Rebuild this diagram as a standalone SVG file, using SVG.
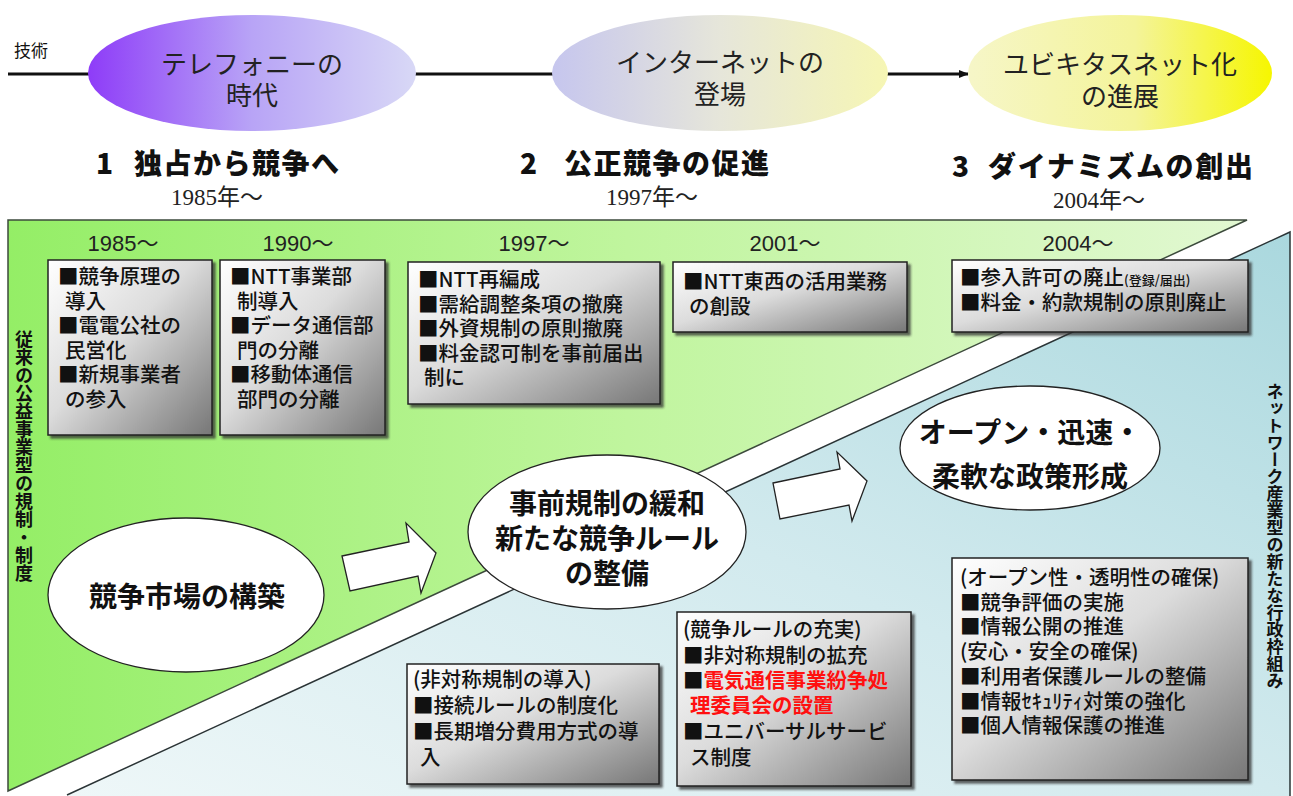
<svg xmlns="http://www.w3.org/2000/svg" width="1293" height="796" viewBox="0 0 1293 796">
<defs>
<style>
text{font-family:"Noto Sans CJK JP","Liberation Sans",sans-serif;fill:#111}
.bx{font-size:20.5px;font-weight:500}
.yr{font-family:"Liberation Sans","Noto Sans CJK JP",sans-serif;font-size:22px;fill:#222}
.hd{font-size:28px;font-weight:900}
.dt{font-family:"Liberation Serif","Noto Sans CJK JP",serif;font-size:23px;fill:#222}
.el{font-size:26px;text-anchor:middle;fill:#222}
.ct{font-size:28px;font-weight:700;text-anchor:middle}
.vt{writing-mode:vertical-rl;font-weight:700}
.red{fill:#ff1010;font-weight:700}
.box{fill:url(#gbox);stroke:#222;stroke-width:1.5;filter:url(#sh)}
.wel{fill:#fff;stroke:#222;stroke-width:1.3}
.barrow{fill:#fff;stroke:#222;stroke-width:1.3;stroke-linejoin:miter}
</style>
<linearGradient id="gbox" x1="0" y1="0" x2="1" y2="1">
<stop offset="0" stop-color="#ffffff"/>
<stop offset="0.45" stop-color="#dcdcdc"/>
<stop offset="1" stop-color="#777777"/>
</linearGradient>
<linearGradient id="ggreen" x1="0" y1="0" x2="1" y2="0">
<stop offset="0" stop-color="#94ee66"/>
<stop offset="0.5" stop-color="#c0f59e"/>
<stop offset="1" stop-color="#e2f8d2"/>
</linearGradient>
<linearGradient id="gblue" x1="0" y1="1" x2="1" y2="0">
<stop offset="0" stop-color="#eef7f8"/>
<stop offset="0.5" stop-color="#d2eaee"/>
<stop offset="1" stop-color="#aad8de"/>
</linearGradient>
<linearGradient id="ge1" x1="0" y1="0" x2="1" y2="0">
<stop offset="0" stop-color="#8e3cf8"/>
<stop offset="0.5" stop-color="#b8a4f6"/>
<stop offset="1" stop-color="#d8d8f6"/>
</linearGradient>
<linearGradient id="ge2" x1="0" y1="0" x2="1" y2="0">
<stop offset="0" stop-color="#c6c6ee"/>
<stop offset="0.5" stop-color="#e6e6da"/>
<stop offset="1" stop-color="#f6f6b4"/>
</linearGradient>
<linearGradient id="ge3" x1="0" y1="0" x2="1" y2="0">
<stop offset="0" stop-color="#f6f6c8"/>
<stop offset="0.55" stop-color="#f4f49a"/>
<stop offset="1" stop-color="#f6f600"/>
</linearGradient>
<filter id="sh" x="-10%" y="-10%" width="130%" height="130%">
<feDropShadow dx="3" dy="3" stdDeviation="1.2" flood-color="#333" flood-opacity="0.75"/>
</filter>
<marker id="ah" markerWidth="10" markerHeight="10" refX="9" refY="5" orient="auto" markerUnits="userSpaceOnUse">
<polygon points="0,1 10,5 0,9" fill="#111"/>
</marker>
</defs>

<rect width="1293" height="796" fill="#fff"/>

<g id="bands">
<polygon points="8,220 1247,220 8,791" fill="url(#ggreen)" stroke="#3c4a3c" stroke-width="1.5"/>
<polygon points="1290,232 1290,796 67,796" fill="url(#gblue)"/>
<polyline points="67,795 1290,232 1290,796" fill="none" stroke="#2a3436" stroke-width="1.5"/>
</g>

<g id="connectors">
<line x1="8" y1="74" x2="92" y2="74" stroke="#111" stroke-width="3"/>
<line x1="412" y1="74" x2="556" y2="74" stroke="#111" stroke-width="3"/>
<line x1="886" y1="74" x2="968" y2="74" stroke="#111" stroke-width="3" marker-end="url(#ah)"/>
<polygon class="barrow" points="342,556 409,542 406,523 436,553 421,593 418,576 350,591"/>
<polygon class="barrow" points="773,483 840,469 837,452 867,481 852,521 849,505 780,519"/>
</g>

<g id="label-tech"><text x="14" y="57" style="font-size:17px">技術</text></g>

<g id="era1">
<ellipse cx="252" cy="73" rx="164" ry="58" fill="url(#ge1)"/>
<text class="el" x="252" y="74">テレフォニーの<tspan x="252" dy="31">時代</tspan></text>
</g>
<g id="era2">
<ellipse cx="720" cy="73" rx="168" ry="58" fill="url(#ge2)"/>
<text class="el" x="720" y="72">インターネットの<tspan x="720" dy="32">登場</tspan></text>
</g>
<g id="era3">
<ellipse cx="1120" cy="73" rx="152" ry="58" fill="url(#ge3)"/>
<text class="el" x="1120" y="74">ユビキタスネット化<tspan x="1120" dy="32">の進展</tspan></text>
</g>

<g id="phase1">
<text class="hd" x="96" y="174">1</text>
<text class="hd" x="134" y="174" textLength="205" lengthAdjust="spacing">独占から競争へ</text>
<text class="dt" x="217" y="205" text-anchor="middle">1985年～</text>
</g>
<g id="phase2">
<text class="hd" x="520" y="174">2</text>
<text class="hd" x="564" y="174" textLength="205" lengthAdjust="spacing">公正競争の促進</text>
<text class="dt" x="652" y="205" text-anchor="middle">1997年～</text>
</g>
<g id="phase3">
<text class="hd" x="952" y="177">3</text>
<text class="hd" x="988" y="177" textLength="265" lengthAdjust="spacing">ダイナミズムの創出</text>
<text class="dt" x="1099" y="208" text-anchor="middle">2004年～</text>
</g>

<g id="years">
<text class="yr" x="123" y="251" text-anchor="middle">1985～</text>
<text class="yr" x="298" y="251" text-anchor="middle">1990～</text>
<text class="yr" x="534" y="251" text-anchor="middle">1997～</text>
<text class="yr" x="785" y="251" text-anchor="middle">2001～</text>
<text class="yr" x="1078" y="251" text-anchor="middle">2004～</text>
</g>

<g id="box1985">
<rect class="box" x="48" y="260" width="164" height="175"/>
<text class="bx" x="58" y="284">■競争原理の<tspan x="65" dy="24.6">導入</tspan><tspan x="58" dy="24.6">■電電公社の</tspan><tspan x="65" dy="24.6">民営化</tspan><tspan x="58" dy="24.6">■新規事業者</tspan><tspan x="65" dy="24.6">の参入</tspan></text>
</g>
<g id="box1990">
<rect class="box" x="220" y="260" width="165" height="175"/>
<text class="bx" x="230" y="284">■NTT事業部<tspan x="237" dy="24.6">制導入</tspan><tspan x="230" dy="24.6">■データ通信部</tspan><tspan x="237" dy="24.6">門の分離</tspan><tspan x="230" dy="24.6">■移動体通信</tspan><tspan x="237" dy="24.6">部門の分離</tspan></text>
</g>
<g id="box1997">
<rect class="box" x="408" y="262" width="252" height="142"/>
<text class="bx" x="418" y="287">■NTT再編成<tspan x="418" dy="24.5">■需給調整条項の撤廃</tspan><tspan x="418" dy="24.5">■外資規制の原則撤廃</tspan><tspan x="418" dy="24.5">■料金認可制を事前届出</tspan><tspan x="424" dy="24.5">制に</tspan></text>
</g>
<g id="box2001">
<rect class="box" x="673" y="262" width="234" height="70"/>
<text class="bx" x="683" y="289">■NTT東西の活用業務<tspan x="689" dy="24.5">の創設</tspan></text>
</g>
<g id="box2004">
<rect class="box" x="952" y="260" width="296" height="72"/>
<text class="bx" x="960" y="285">■参入許可の廃止<tspan style="font-size:13px">(登録/届出)</tspan><tspan x="960" dy="24.5">■料金・約款規制の原則廃止</tspan></text>
</g>

<g id="node-market">
<ellipse class="wel" cx="186" cy="595" rx="138" ry="77"/>
<text class="ct" x="187" y="607">競争市場の構築</text>
</g>
<g id="node-rules">
<ellipse class="wel" cx="607" cy="532" rx="139" ry="77"/>
<text class="ct" x="607" y="514">事前規制の緩和<tspan x="607" dy="35">新たな競争ルール</tspan><tspan x="607" dy="35">の整備</tspan></text>
</g>
<g id="node-policy">
<ellipse class="wel" cx="1030" cy="448" rx="130" ry="62"/>
<text class="ct" x="1030" y="443">オープン・迅速・<tspan x="1030" dy="44">柔軟な政策形成</tspan></text>
</g>

<g id="box-asym">
<rect class="box" x="407" y="664" width="252" height="120"/>
<text class="bx" x="413" y="687">(非対称規制の導入)<tspan x="413" dy="26">■接続ルールの制度化</tspan><tspan x="413" dy="26">■長期増分費用方式の導</tspan><tspan x="420" dy="26">入</tspan></text>
</g>
<g id="box-comp">
<rect class="box" x="677" y="612" width="234" height="174"/>
<text class="bx" x="683" y="637">(競争ルールの充実)<tspan x="683" dy="25.5">■非対称規制の拡充</tspan><tspan x="683" dy="25">■</tspan><tspan class="red">電気通信事業紛争処</tspan><tspan class="red" x="690" dy="25">理委員会の設置</tspan><tspan x="683" dy="26">■ユニバーサルサービ</tspan><tspan x="690" dy="26">ス制度</tspan></text>
</g>
<g id="box-open">
<rect class="box" x="952" y="558" width="296" height="222"/>
<text class="bx" x="960" y="585">(オープン性・透明性の確保)<tspan x="960" dy="24.7">■競争評価の実施</tspan><tspan x="960" dy="24.7">■情報公開の推進</tspan><tspan x="960" dy="24.7">(安心・安全の確保)</tspan><tspan x="960" dy="24.7">■利用者保護ルールの整備</tspan><tspan x="960" dy="24.7">■情報ｾｷｭﾘﾃｨ対策の強化</tspan><tspan x="960" dy="24.7">■個人情報保護の推進</tspan></text>
</g>

<g id="side-left"><text class="vt" x="24" y="330" style="font-size:18px">従来の公益事業型の規制・制度</text></g>
<g id="side-right"><text class="vt" x="1275" y="383" style="font-size:17px">ネットワーク産業型の新たな行政枠組み</text></g>
</svg>
